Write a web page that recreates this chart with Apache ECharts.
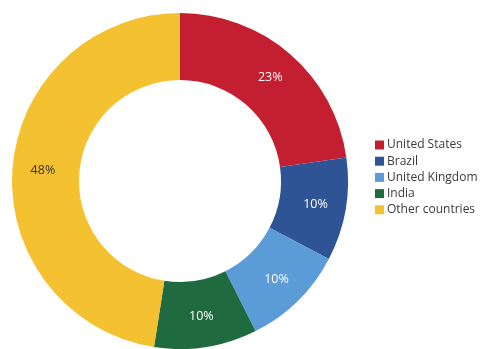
<!DOCTYPE html>
<html><head><meta charset="utf-8">
<script src="https://cdn.jsdelivr.net/npm/echarts@6/dist/echarts.min.js"></script>
<style>html,body{margin:0;padding:0;background:#fff}#c{width:488px;height:349px}</style>
</head><body><div id="c"></div>
<script>
var categories = ['United States', 'Brazil', 'United Kingdom', 'India', 'Other countries'];
var values = [23, 10, 10, 10, 48];
var colors = ['#C41F30', '#2F5496', '#5B9BD8', '#1F6B3F', '#F4C231'];
var labelColors = ['#fff', '#fff', '#fff', '#fff', '#333'];

var chart = echarts.init(document.getElementById('c'));
chart.setOption({
  animation: false,
  color: colors,
  legend: {
    orient: 'vertical',
    left: 370,
    top: 134,
    itemWidth: 9,
    itemHeight: 9,
    itemGap: 4.2,
    icon: 'rect',
    textStyle: {fontFamily: 'Open Sans', fontSize: 12, color: '#3a3a3a', padding: [0,0,0,-2]},
    data: categories
  },
  series: [{
    type: 'pie',
    center: [180, 181],
    radius: [101, 168],
    startAngle: 90,
    clockwise: true,
    avoidLabelOverlap: false,
    label: {
      position: 'inside',
      fontFamily: 'Open Sans',
      fontSize: 12.5,
      formatter: '{c}%'
    },
    labelLine: {show: false},
    itemStyle: {borderWidth: 0},
    data: categories.map(function (n, i) {
      return {name: n, value: values[i], label: {color: labelColors[i]}};
    })
  }]
});
</script></body></html>
